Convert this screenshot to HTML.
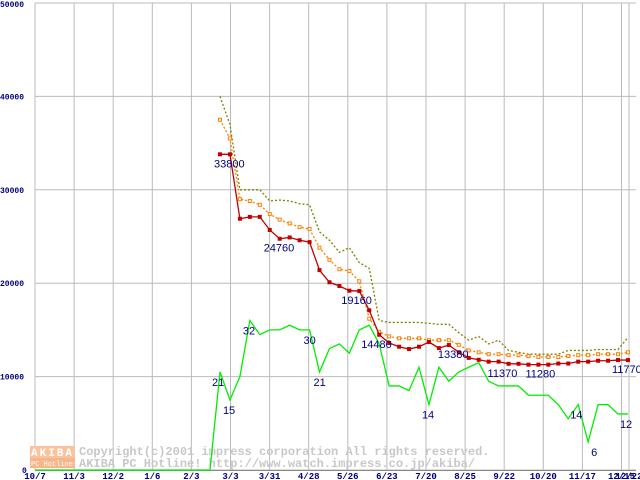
<!DOCTYPE html>
<html><head><meta charset="utf-8"><style>
body{margin:0;background:#fff}
svg{display:block;font-family:"Liberation Mono","DejaVu Sans Mono",monospace}
</style></head><body>
<svg id="c" width="640" height="480" xmlns="http://www.w3.org/2000/svg"></svg>
<script>
const xLabels=["10/7","11/3","12/2","1/6","2/3","3/3","3/31","4/28","5/26","6/23","7/20","8/25","9/22","10/20","11/17","12/15","12/22"];
const yTicks=[0,10000,20000,30000,40000,50000];
const minPrice=[33800,33800,26900,27100,27100,25700,24760,24900,24600,24400,21400,20100,19700,19200,19160,17100,14480,13600,13200,12950,13200,13700,13050,13380,12600,12000,11800,11600,11600,11370,11370,11280,11280,11280,11400,11400,11600,11600,11700,11700,11770,11770];
const avgPrice=[37500,35500,29000,28800,28400,27400,26800,26400,26000,25800,23800,22500,21500,21300,20200,16200,14800,14300,14100,14100,14100,13900,13900,13900,13400,12800,12600,12400,12400,12300,12300,12200,12100,12100,12100,12200,12300,12300,12400,12400,12400,12600];
const maxPrice=[40000,37000,30000,30000,30000,28800,28900,28800,28500,28400,25500,24600,23300,23800,22200,21600,16000,15800,15800,15800,15800,15700,15600,15600,14700,13900,14300,13500,13900,12800,12600,12400,12400,12400,12400,12800,12800,12800,12900,12900,12900,14200];
const shopCount=[21,15,20,32,29,30,30,31,30,30,21,26,27,25,30,31,27,18,18,17,22,14,22,19,21,22,23,19,18,18,18,16,16,16,14,11,14,6,14,14,12,12];
const minLabels=[[0,"33800"],[6,"24760"],[14,"19160"],[16,"14480"],[23,"13380"],[29,"11370"],[31,"11280"],[41,"11770"]];
const shopLabels=[[0,"21"],[1,"15"],[3,"32"],[9,"30"],[10,"21"],[21,"14"],[36,"14"],[37,"6"],[41,"12"]];
const minLabelDx=[-6,-16,-18,-18,-11,-21,-3,-16];
const shopLabelDx=[-8,-7,-7,-6,-6,-7,-8,3,-8];
const NS="http://www.w3.org/2000/svg",svg=document.getElementById('c');
const X=w=>220+w*9.95, Y=v=>470-v/10000*93.4, YS=n=>Y(n*500);
function mk(t,a,p){const e=document.createElementNS(NS,t);for(const k in a)e.setAttribute(k,a[k]);(p||svg).appendChild(e);return e;}
yTicks.forEach((v,i)=>{const l=mk('line',{x1:35,x2:636,y1:Y(v),y2:Y(v),stroke:'#bbb'});


const t=mk('text',{x:i==0?22:0,y:Y(v)+(i==5?4:3),'font-size':8,fill:'#000080','font-weight':'bold'});t.textContent=v;

});
xLabels.forEach((s,i)=>{const x=i<16?35+i*39.1:629;const l=mk('line',{x1:x,x2:x,y1:3,y2:470,stroke:'#bbb'});


const t=mk('text',{x:x,y:479,'font-size':9,fill:'#000080','text-anchor':'middle','font-weight':'bold'});t.textContent=s;

});
mk('line',{x1:35,x2:636,y1:470.5,y2:470.5,stroke:'#888'});
const wm=mk('g',{});
mk('rect',{x:30,y:446,width:45,height:12,fill:'#f9c49c'},wm);
mk('rect',{x:30,y:458,width:45,height:10,fill:'#f9b58a'},wm);
let t=mk('text',{x:31,y:456,'font-size':11,fill:'#fff','font-weight':'bold','letter-spacing':2},wm);t.textContent='AKIBA';
t=mk('text',{x:31,y:466,'font-size':7,fill:'#fff'},wm);t.textContent='PC Hotline!';
t=mk('text',{x:79,y:455,'font-size':12,fill:'#c8c8c8','font-weight':'bold'},wm);t.textContent='Copyright(c)2001 impress corporation All rights reserved.';
t=mk('text',{x:79,y:467,'font-size':12,fill:'#c8c8c8','font-weight':'bold'},wm);t.textContent='AKIBA PC Hotline! http://www.watch.impress.co.jp/akiba/';
let gp='M35,470 L210,470 '+shopCount.map((n,i)=>'L'+X(i)+','+YS(n)).join(' ');
let g=mk('path',{d:gp,fill:'none',stroke:'#00ee00','stroke-width':1.3});


function line(arr,color,dash,name){const p=mk('path',{d:arr.map((v,i)=>(i?'L':'M')+X(i)+','+Y(v)).join(' '),fill:'none',stroke:color,'stroke-width':1.3,'stroke-dasharray':dash||''});

}
line(maxPrice,'#808000','2 2','max-price-line');
line(avgPrice,'#ff8000','2 2','avg-price-line');
avgPrice.forEach((v,i)=>{const r=mk('rect',{x:X(i)-1.5,y:Y(v)-1.5,width:3,height:3,fill:'#fff',stroke:'#ff8000','stroke-width':1});

});
line(minPrice,'#c00000','','min-price-line');
minPrice.forEach((v,i)=>{const r=mk('rect',{x:X(i)-2,y:Y(v)-2,width:4,height:4,fill:'#c00000'});

});
minLabels.forEach(([i,s],k)=>{const t=mk('text',{x:X(i)+minLabelDx[k],y:Y(minPrice[i])+13,'font-size':11,fill:'#000080','font-family':'Liberation Sans,sans-serif'});t.textContent=s;

});
shopLabels.forEach(([i,s],k)=>{const t=mk('text',{x:X(i)+shopLabelDx[k],y:YS(shopCount[i])+14,'font-size':11,fill:'#000080','font-family':'Liberation Sans,sans-serif'});t.textContent=s;

});
</script>
</body></html>
